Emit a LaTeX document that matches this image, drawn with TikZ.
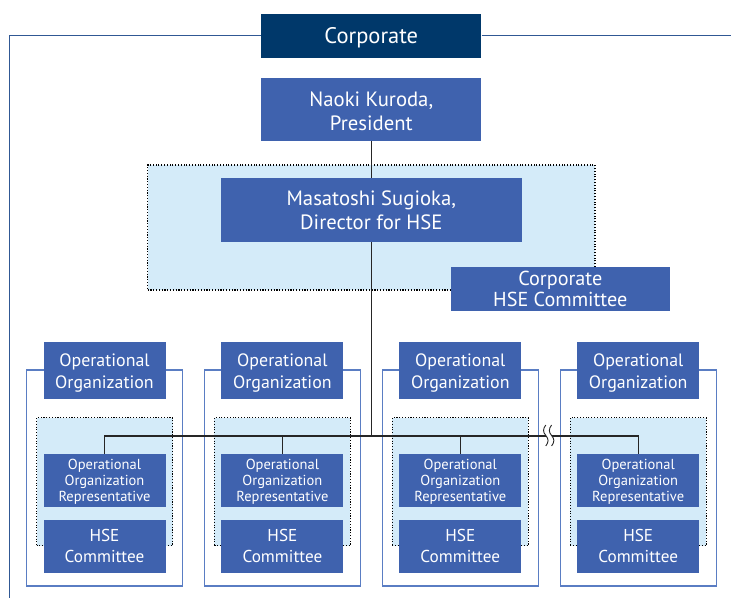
\documentclass[tikz,border=0pt]{standalone}
\usepackage{fontspec}
\setmainfont{PT Sans}
\definecolor{navy}{RGB}{0,56,106}
\definecolor{midblue}{RGB}{63,98,174}
\definecolor{paleblue}{RGB}{212,235,249}
\definecolor{grpline}{RGB}{90,125,195}
\definecolor{frameline}{RGB}{48,88,148}
% invisible strut that pushes the first line of a label down
\newcommand\firststrut[1]{\rule{0pt}{#1}}
\begin{document}
\begin{tikzpicture}[x=1pt,y=-1pt,
  darkbox/.style={fill=navy, text=white, inner sep=0pt, align=center},
  bluebox/.style={fill=midblue, text=white, inner sep=0pt, align=center},
  band/.style={fill=paleblue, draw=black, line width=1.1pt, dash pattern=on 1.1pt off 1.7pt, inner sep=0pt},
  grpbox/.style={fill=white, draw=grpline, line width=1.2pt, inner sep=0pt,
    minimum width=156pt, minimum height=216pt},
  frame/.style={draw=frameline, line width=1.3pt},
  conn/.style={draw=black!85, line width=1.1pt},
  bigfont/.style={font=\fontsize{20.7}{23.5}\selectfont},
  orgfont/.style={font=\fontsize{17.9}{22}\selectfont},
  hsefont/.style={font=\fontsize{17.2}{21}\selectfont},
  smallfont/.style={font=\fontsize{14.5}{16}\selectfont}]
\useasboundingbox (0,0) rectangle (731,598);

% corporate header and surrounding frame
\node[darkbox, minimum width=220pt, minimum height=44pt,
  font=\fontsize{22.5}{24}\selectfont] (corp) at (371.3,35.5) {\firststrut{20.5pt}Corporate};
\draw[frame] (corp.west) -- (9.5,35.5) -- (9.5,598);
\draw[frame] (corp.east) -- (731,35.5);

% corporate level
\node[bluebox, bigfont, minimum width=220pt, minimum height=63pt] (pres)
  at (371.3,109.5) {\firststrut{18pt}Naoki Kuroda,\\President};
\node[band, minimum width=447.4pt, minimum height=125pt] (topband)
  at (371.3,227.5) {};
\node[bluebox, bigfont, minimum width=301pt, minimum height=64pt] (dir)
  at (371.3,210) {Masatoshi Sugioka,\\Director for HSE};
\node[bluebox, font=\fontsize{20.2}{21}\selectfont, minimum width=219.5pt,
  minimum height=44pt] (chse) at (560.3,289) {Corporate\\HSE Committee};

% operational organizations
\foreach \i in {1,...,4}{
  \pgfmathsetmacro{\cx}{26.5+177.9*(\i-1)+78}
  \node[grpbox] (grp\i) at (\cx,478) {};
  \node[band, minimum width=136pt, minimum height=128pt] (band\i) at (\cx,481.7) {};
  \node[bluebox, orgfont, minimum width=122pt, minimum height=57pt] (org\i)
    at (\cx,370.5) {\firststrut{18.5pt}Operational\\Organization};
  \node[bluebox, smallfont, minimum width=122pt, minimum height=52.7pt] (rep\i)
    at (\cx,480.3) {\firststrut{12.5pt}Operational\\Organization\\Representative};
  \node[bluebox, hsefont, minimum width=122pt, minimum height=52.7pt] (hse\i)
    at (\cx,546.3) {HSE\\Committee};
}

% reporting lines
\coordinate (brkL) at (545.5,436);
\coordinate (brkR) at (552,436);
\draw[conn] (pres.south) -- (dir.north);
\draw[conn] (dir.south) -- (dir.south |- brkL);
\draw[conn] (rep1.north) |- (brkL);
\draw[conn] (rep2.north) -- (rep2.north |- brkL);
\draw[conn] (rep3.north) -- (rep3.north |- brkL);
\draw[conn] (brkR) -| (rep4.north);

% break marks on the bus
\foreach \bx in {545.8,551.6}{
  \draw[conn, line width=0.9pt] (\bx,425) .. controls (\bx-3,429) and (\bx-3,432) .. (\bx,435.5)
    .. controls (\bx+3,439) and (\bx+3,442) .. (\bx,446);
}
\end{tikzpicture}
\end{document}
